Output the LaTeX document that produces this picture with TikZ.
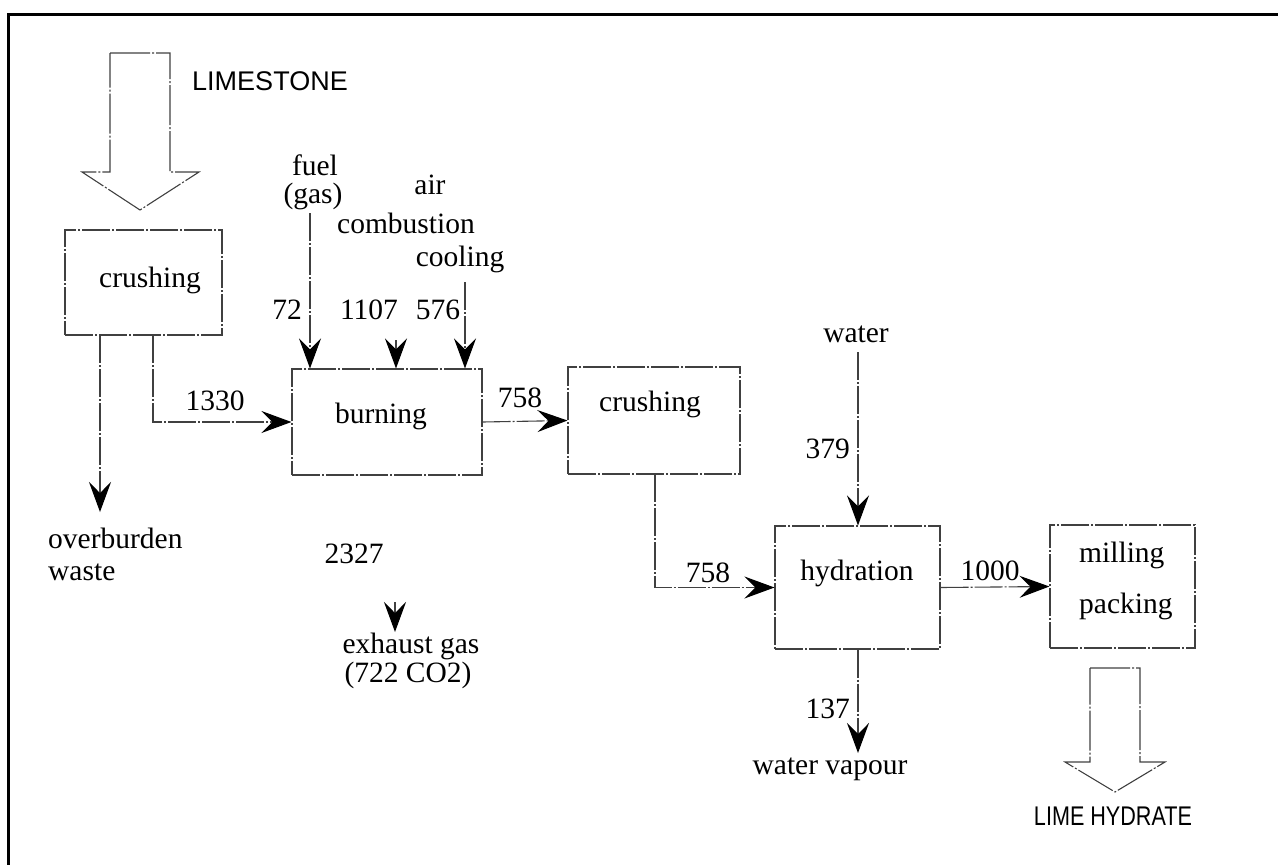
\documentclass[tikz,border=0pt]{standalone}
\usepackage{fontspec}
\usepackage{graphicx}
\setmainfont{Liberation Serif}
\newfontfamily\helv{Liberation Sans}
\usetikzlibrary{arrows.meta}
\begin{document}
\begin{tikzpicture}[x=1pt,y=-1pt,
  lbl/.style={font=\fontsize{29.5}{32}\selectfont, inner sep=0pt, anchor=base},
  caps/.style={font=\helv\fontsize{27}{30}\selectfont, inner sep=0pt, anchor=base},
  thin/.style={draw=black!75, line width=1.1pt, dash pattern=on 28pt off 2pt on 2pt off 2pt},
  boxshape/.style={thin, rectangle, inner sep=0pt},
  flow/.style={thin, -{Stealth[length=30pt,width=22pt,inset=11pt,color=black,fill=black]}},
  bigarrow/.style={draw=black!75, line width=1.1pt, line join=miter, dash pattern=on 40pt off 2pt on 2pt off 2pt}]
\useasboundingbox (0,0) rectangle (1278,865);
% frame
\draw[line width=3pt] (8,865) -- (8,14) -- (1278,14);

% limestone input
\draw[bigarrow] (110,53) -- (170,53) -- (170,172) -- (199,172) -- (140,210) -- (82,172) -- (110,172) -- cycle;
\node[caps] (limestone) at (270,90) {LIMESTONE};

% boxes
\node[boxshape, minimum width=157pt, minimum height=105pt] (crushA) at (143.5,282.5) {};
\node[lbl] (crushAt) at (150,287) {crushing};
\node[boxshape, minimum width=190pt, minimum height=106pt] (burn) at (387,422) {};
\node[lbl] (burnt) at (381,423) {burning};
\node[boxshape, minimum width=172pt, minimum height=107pt] (crushB) at (654,420.5) {};
\node[lbl] (crushBt) at (650,411) {crushing};
\node[boxshape, minimum width=165pt, minimum height=123pt] (hyd) at (857.5,587.5) {};
\node[lbl] (hydt) at (857,580) {hydration};
\node[boxshape, minimum width=145pt, minimum height=123pt] (mill) at (1122.5,586.5) {};
\node[lbl, anchor=base west] (millt) at (1079,562) {milling};
\node[lbl, anchor=base west] (packt) at (1079,613) {packing};

% crushing -> overburden
\coordinate (obS) at (100,335);
\coordinate (obE) at (100,512);
\draw[flow] (obS) -- (obE);
\node[lbl, anchor=base west] (overb) at (48,548) {overburden};
\node[lbl, anchor=base west] (waste) at (48,580) {waste};

% crushing -> burning
\coordinate (k1) at (153,335);
\draw[flow] (k1) |- (burn.west);
\node[lbl] (l1330) at (215,410) {1330};

% burning inputs
\node[lbl] (fuel) at (315,175) {fuel};
\node[lbl] (gas) at (313,203) {(gas)};
\node[lbl] (air) at (430,194) {air};
\node[lbl] (comb) at (406,233) {combustion};
\node[lbl] (cool) at (460,266) {cooling};
\coordinate (fuelS) at (310,213);
\draw[flow] (fuelS) -- (fuelS |- burn.north);
\coordinate (combS) at (396,340);
\draw[flow] (combS) -- (combS |- burn.north);
\coordinate (coolS) at (465,282);
\draw[flow] (coolS) -- (coolS |- burn.north);
\node[lbl] (l72) at (287,319) {72};
\node[lbl] (l1107) at (369,319) {1107};
\node[lbl] (l576) at (438,319) {576};

% burning -> crushing
\draw[flow] (burn.east) -- (crushB.west);
\node[lbl] (l758a) at (520,407) {758};

% exhaust
\node[lbl] (l2327) at (354,563) {2327};
\coordinate (exS) at (395,602);
\coordinate (exE) at (395,632);
\draw[flow] (exS) -- (exE);
\node[lbl] (exh) at (411,653) {exhaust gas};
\node[lbl] (co2) at (408,682) {(722 CO2)};

% crushing -> hydration
\coordinate (k2) at (655,474);
\draw[flow] (k2) |- (hyd.west);
\node[lbl] (l758b) at (708,582) {758};

% water
\node[lbl] (water) at (856,342) {water};
\coordinate (wS) at (858,352);
\draw[flow] (wS) -- (wS |- hyd.north);
\node[lbl, anchor=base east] (l379) at (850,458) {379};

% hydration -> milling
\draw[flow] (hyd.east) -- (mill.west);
\node[lbl] (l1000) at (990,580) {1000};

% water vapour
\coordinate (vE) at (858,753);
\draw[flow] (hyd.south -| vE) -- (vE);
\node[lbl, anchor=base east] (l137) at (850,718) {137};
\node[lbl] (vap) at (830,774) {water vapour};

% lime hydrate output
\draw[bigarrow] (1090,668) -- (1140,668) -- (1140,762) -- (1165,762) -- (1115,792) -- (1065,762) -- (1090,762) -- cycle;
\node[caps] (limeh) at (1113,825) {\scalebox{0.8}[1]{LIME HYDRATE}};
\end{tikzpicture}
\end{document}
